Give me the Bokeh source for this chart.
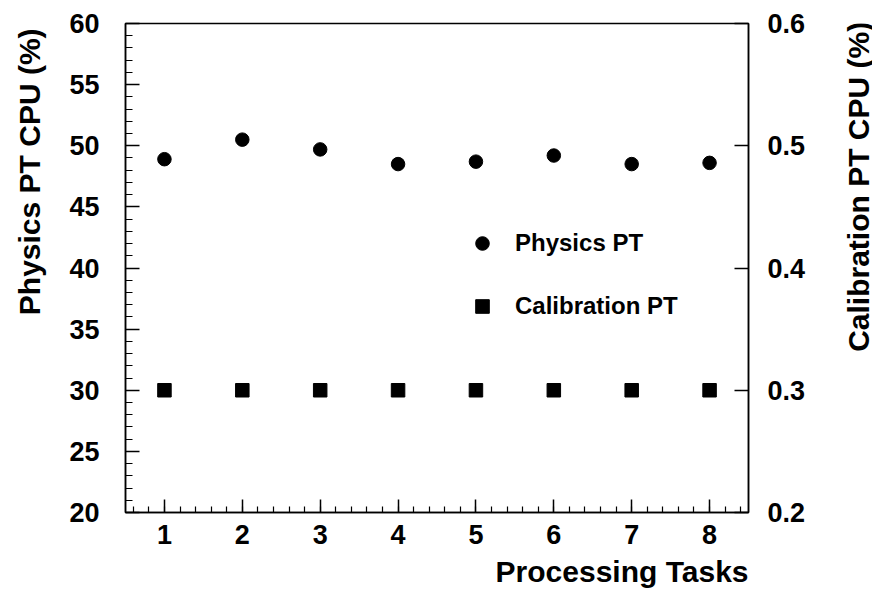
import math
from bokeh.plotting import figure
from bokeh.layouts import row
from bokeh.models import (Range1d, LinearAxis, FixedTicker, PrintfTickFormatter,
                          Legend, LegendItem, ColumnDataSource, Title)
from bokeh.embed import file_html
from bokeh.resources import INLINE

# ---- data ----
tasks = [1, 2, 3, 4, 5, 6, 7, 8]
physics_cpu = [48.9, 50.5, 49.7, 48.5, 48.7, 49.2, 48.5, 48.6]      # left axis (%)
calibration_cpu = [0.3, 0.3, 0.3, 0.3, 0.3, 0.3, 0.3, 0.3]          # right axis (%)
left_ticks = [20, 25, 30, 35, 40, 45, 50, 55, 60]
right_ticks = [0.2, 0.3, 0.4, 0.5, 0.6]
x_title = "Processing Tasks"
left_title = "Physics PT CPU (%)"
right_title = "Calibration PT CPU (%)"

FONT = "Liberation Sans"
TICK_SIZE = "27px"

W, H = 872, 594
LW, RW = 48, 30                  # side strips holding the vertical axis titles
MW = W - LW - RW
BL, BR, BT, BB = 125 - LW, MW - (748 - LW), 23, 82

p = figure(width=MW, height=H, x_range=Range1d(0.5, 8.5), y_range=Range1d(20, 60),
           output_backend="svg", toolbar_location=None,
           min_border_left=BL, min_border_right=BR, min_border_top=BT, min_border_bottom=BB)
p.title.visible = False
p.extra_y_ranges = {"right": Range1d(0.2, 0.6)}
p.xgrid.visible = False
p.ygrid.visible = False
p.outline_line_color = "black"
p.outline_line_width = 1.5
p.background_fill_color = "white"
p.border_fill_color = "white"

src_phys = ColumnDataSource(dict(x=tasks, y=physics_cpu))
src_cal = ColumnDataSource(dict(x=tasks, y=calibration_cpu))
r1 = p.scatter("x", "y", source=src_phys, marker="circle", size=13.5,
               fill_color="black", line_color="black")
r2 = p.scatter("x", "y", source=src_cal, marker="square", size=13.5,
               fill_color="black", line_color="black", y_range_name="right")

def style_axis(ax):
    ax.axis_line_color = "black"
    ax.axis_line_width = 1.5
    ax.major_tick_line_color = "black"
    ax.major_tick_line_width = 1.5
    ax.minor_tick_line_color = "black"
    ax.minor_tick_line_width = 1.2
    ax.major_tick_out = 0
    ax.minor_tick_out = 0
    ax.major_label_text_font = FONT
    ax.major_label_text_font_style = "bold"
    ax.major_label_text_font_size = TICK_SIZE
    ax.major_label_text_color = "black"

# x axis
xa = p.xaxis[0]
style_axis(xa)
minor_x = [round(0.6 + 0.2 * i, 1) for i in range(40)]
xa.ticker = FixedTicker(ticks=tasks, minor_ticks=minor_x)
xa.major_tick_in = 13
xa.minor_tick_in = 6
xa.major_label_standoff = 12

# left y axis
ya = p.yaxis[0]
style_axis(ya)
ya.ticker = FixedTicker(ticks=left_ticks, minor_ticks=list(range(20, 61)))
ya.major_tick_in = 14
ya.minor_tick_in = 7
ya.major_label_standoff = 26

# right y axis
ra = LinearAxis(y_range_name="right")
style_axis(ra)
ra.ticker = FixedTicker(ticks=right_ticks)
ra.formatter = PrintfTickFormatter(format="%.1f")
ra.major_tick_in = 14
ra.minor_tick_line_color = None
ra.major_label_standoff = 19
p.add_layout(ra, "right")

# x-axis title, right-aligned at the end of the axis (ROOT style)
p.add_layout(Title(text=x_title, align="right", text_font=FONT, text_font_style="bold",
                   text_font_size="30px", text_color="black", standoff=13), "below")

legend = Legend(items=[LegendItem(label="Physics PT", renderers=[r1]),
                       LegendItem(label="Calibration PT", renderers=[r2])],
                location=(340, 189), border_line_color=None, background_fill_alpha=0,
                padding=0, margin=0, spacing=29, glyph_height=34, glyph_width=34,
                label_standoff=16, label_text_font=FONT, label_text_font_style="bold",
                label_text_font_size="24px", label_text_color="black", label_height=34)
p.add_layout(legend)

# vertical axis titles in narrow side strips (pixel-like coordinates, y from top)
def title_strip(width, x0, xc, ytop, text):
    s = figure(width=width, height=H, x_range=Range1d(x0, x0 + width), y_range=Range1d(H, 0),
               output_backend="svg", toolbar_location=None, min_border=0,
               min_border_top=0, min_border_bottom=0, min_border_left=0, min_border_right=0)
    s.title.visible = False
    s.axis.visible = False
    s.grid.visible = False
    s.outline_line_color = None
    s.background_fill_color = "white"
    s.border_fill_color = "white"
    s.text(x=[xc], y=[ytop], text=[text], angle=math.pi / 2, text_align="right",
           text_baseline="middle", text_font={"value": FONT}, text_font_style="bold",
           text_font_size="30px", text_color="black")
    return s

left_strip = title_strip(LW, 0, 29, 6, left_title)
right_strip = title_strip(RW, W - RW, 858, -2, right_title)

layout = row(left_strip, p, right_strip, spacing=0)
open("out.html", "w").write(file_html(layout, INLINE))
